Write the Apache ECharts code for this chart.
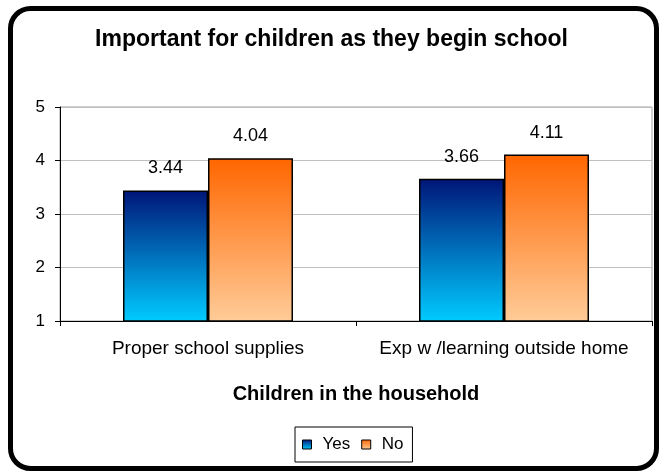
<!DOCTYPE html>
<html>
<head>
<meta charset="utf-8">
<script src="https://cdn.jsdelivr.net/npm/echarts@6/dist/echarts.min.js"></script>
<style>
html,body{margin:0;padding:0;background:#fff;}
#chart{width:663px;height:474px;}
</style>
</head>
<body>
<div id="chart"></div>
<script>
const categories = ['Proper school supplies', 'Exp w /learning outside home'];
const seriesNames = ['Yes', 'No'];
const yesValues = [3.44, 3.66];
const noValues = [4.04, 4.11];
const yTicks = [1, 2, 3, 4, 5];

const FONT = '"Liberation Sans", Arial, sans-serif';
const chart = echarts.init(document.getElementById('chart'));

function grad(top, bottom) {
  return new echarts.graphic.LinearGradient(0, 0, 0, 1, [
    {offset: 0, color: top}, {offset: 1, color: bottom}
  ]);
}
const yesFill = grad('#001578', '#00ccff');
const noFill = grad('#ff6600', '#ffcc99');

chart.setOption({
  animation: false,
  textStyle: {fontFamily: FONT, color: '#000'},
  graphic: [{
    type: 'rect',
    shape: {x: 10.5, y: 8.5, width: 646, height: 460, r: 20},
    style: {fill: 'none', stroke: '#000', lineWidth: 5},
    z: 100
  }],
  title: {
    text: 'Important for children as they begin school',
    left: 'center',
    top: 23,
    textStyle: {fontFamily: FONT, fontSize: 23, fontWeight: 'bold', color: '#000'}
  },
  legend: {
    data: seriesNames,
    left: 295,
    top: 427,
    icon: 'rect',
    itemWidth: 9,
    itemHeight: 9,
    itemGap: 11,
    padding: [9, 9, 9, 7],
    borderColor: '#000',
    borderWidth: 1,
    itemStyle: {borderColor: '#000', borderWidth: 1},
    textStyle: {fontFamily: FONT, fontSize: 17, color: '#000', padding: [0, 0, 0, 6]}
  },
  grid: {
    left: 60, right: 11, top: 107, bottom: 153,
    show: true, borderColor: '#a0a0a0', borderWidth: 1, backgroundColor: 'transparent'
  },
  xAxis: {
    type: 'category',
    data: categories,
    name: 'Children in the household',
    nameLocation: 'middle',
    nameGap: 63,
    nameTextStyle: {fontFamily: FONT, fontSize: 20, fontWeight: 'bold', color: '#000'},
    axisLine: {lineStyle: {color: '#000', width: 1}},
    axisTick: {show: true, length: 5, lineStyle: {color: '#000'}},
    axisLabel: {fontFamily: FONT, fontSize: 19, color: '#000', margin: 18, interval: 0}
  },
  yAxis: {
    type: 'value',
    min: yTicks[0],
    max: yTicks[yTicks.length - 1],
    interval: 1,
    axisLine: {show: true, lineStyle: {color: '#000', width: 1}},
    axisTick: {show: true, length: 5, lineStyle: {color: '#000'}},
    axisLabel: {fontFamily: FONT, fontSize: 17, color: '#000', margin: 15},
    splitLine: {show: true, lineStyle: {color: '#c0c0c0', width: 1}}
  },
  series: [
    {
      name: seriesNames[0],
      type: 'bar',
      data: yesValues,
      barWidth: 85,
      barGap: '0%',
      itemStyle: {color: yesFill, borderColor: '#000', borderWidth: 1.5},
      label: {show: true, position: 'top', distance: 13, fontFamily: FONT, fontSize: 18, color: '#000', formatter: p => p.value.toFixed(2)}
    },
    {
      name: seriesNames[1],
      type: 'bar',
      data: noValues,
      barWidth: 85,
      barGap: '0%',
      itemStyle: {color: noFill, borderColor: '#000', borderWidth: 1.5},
      label: {show: true, position: 'top', distance: 13, fontFamily: FONT, fontSize: 18, color: '#000', formatter: p => p.value.toFixed(2)}
    }
  ]
});
</script>
</body>
</html>
